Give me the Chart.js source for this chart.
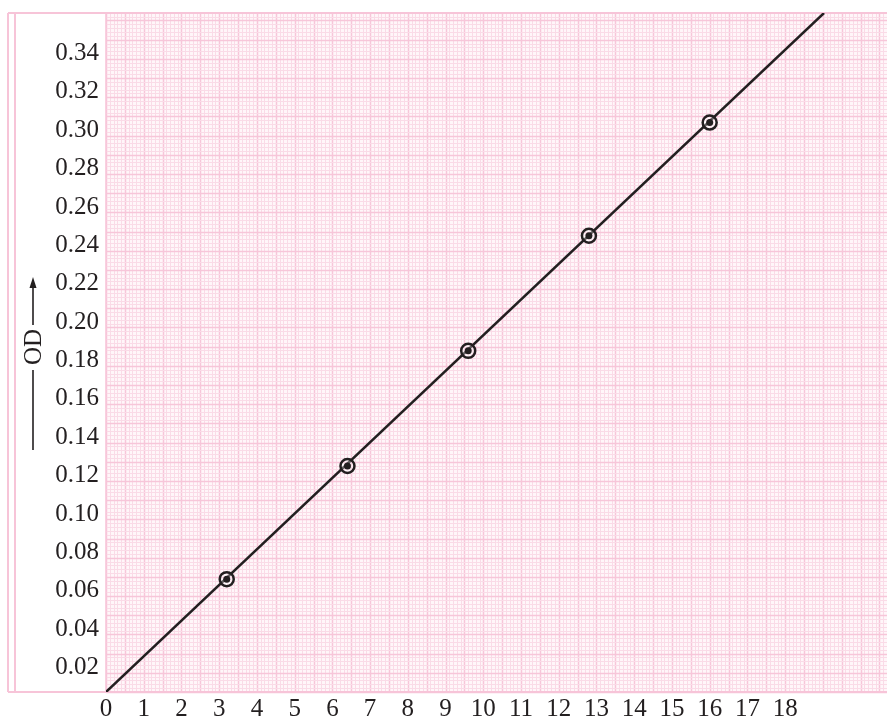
<!DOCTYPE html>
<html>
<head>
<meta charset="utf-8">
<script src="https://cdn.jsdelivr.net/npm/chart.js@4"></script>
<style>
  body { margin: 0; background: #fff; }
  .wrap { width: 887px; height: 718px; position: relative; }
</style>
</head>
<body>
<div class="wrap"><canvas id="chart"></canvas></div>
<script>
// concentration vs optical density
const concentration = [3.2, 6.4, 9.6, 12.8, 16];
const od = [0.066, 0.125, 0.185, 0.245, 0.304];

// best fit line, ends
const fitX = [0, 19.03];
const fitY = [0.0072, 0.3611];

const xTicks = [0, 1, 2, 3, 4, 5, 6, 7, 8, 9, 10, 11, 12, 13, 14, 15, 16, 17, 18];
const yTicks = [0.02, 0.04, 0.06, 0.08, 0.10, 0.12, 0.14, 0.16, 0.18, 0.20, 0.22, 0.24, 0.26, 0.28, 0.30, 0.32, 0.34];

const INK = '#231f20';
const FONT = 'Liberation Serif';

const points = concentration.map((c, i) => ({x: c, y: od[i]}));
const fitLine = fitX.map((x, i) => ({x, y: fitY[i]}));

// pink graph paper + frame
const paper = {
    id: 'paper',
    beforeDraw(chart) {
        const {ctx, chartArea: a, scales: {x, y}} = chart;
        ctx.save();
        ctx.fillStyle = '#fff';
        ctx.fillRect(0, 0, chart.width, chart.height);
        ctx.fillStyle = '#fff6f9';
        ctx.fillRect(a.left, a.top, a.right - a.left, a.bottom - a.top);

        const line = (x1, y1, x2, y2, col, w) => {
            ctx.strokeStyle = col;
            ctx.lineWidth = w;
            ctx.beginPath();
            ctx.moveTo(x1, y1);
            ctx.lineTo(x2, y2);
            ctx.stroke();
        };
        // fine lines every 0.1 in x and 0.002 in y
        for (let k = 0; ; k++) {
            const px = x.getPixelForValue(k * 0.1);
            if (px > a.right + 1) break;
            const col = k % 5 === 0 ? '#f7c6d9' : '#fadbe7';
            line(Math.round(px) + 0.5, a.top, Math.round(px) + 0.5, a.bottom, col, k % 5 === 0 ? 1.5 : 1);
        }
        for (let k = 0; ; k++) {
            const py = y.getPixelForValue(y.min + k * 0.002);
            if (py < a.top - 1) break;
            const col = k % 5 === 0 ? '#f7c6d9' : '#fadbe7';
            line(a.left, Math.round(py) + 0.5, a.right, Math.round(py) + 0.5, col, k % 5 === 0 ? 1.5 : 1);
        }

        // outer frame
        const fc = '#f7c4d8';
        line(8, a.top, chart.width, a.top, fc, 2);
        line(8, a.bottom, chart.width, a.bottom, fc, 2);
        line(8, a.top, 8, a.bottom, fc, 2);
        line(15, a.top, 15, a.bottom, fc, 2);
        line(a.left, a.top, a.left, a.bottom, fc, 1.5);

        // axis title with arrow
        const tx = 33, ty = 347;
        ctx.translate(tx, ty);
        ctx.rotate(-Math.PI / 2);
        ctx.fillStyle = INK;
        ctx.font = '25px "' + FONT + '"';
        ctx.textAlign = 'center';
        ctx.textBaseline = 'middle';
        ctx.fillText('OD', 0, 1);
        ctx.restore();

        ctx.save();
        line(tx, 450, tx, 370, INK, 1.6);
        line(tx, 325, tx, 284, INK, 1.6);
        ctx.fillStyle = INK;
        ctx.beginPath();
        ctx.moveTo(tx, 277);
        ctx.lineTo(tx - 3.5, 288);
        ctx.lineTo(tx + 3.5, 288);
        ctx.closePath();
        ctx.fill();
        ctx.restore();
    }
};

new Chart(document.getElementById('chart'), {
    type: 'scatter',
    data: {
        datasets: [
            {
                data: fitLine,
                order: 3,
                showLine: true,
                borderColor: INK,
                borderWidth: 2.5,
                pointRadius: 0,
            },
            {
                data: points,
                order: 2,
                pointRadius: 7,
                borderWidth: 2.5,
                borderColor: INK,
                backgroundColor: 'rgba(255,255,255,0.3)',
            },
            {
                data: points,
                order: 1,
                pointRadius: 3.5,
                borderWidth: 0,
                backgroundColor: INK,
                pointBackgroundColor: INK,
            }
        ]
    },
    options: {
        responsive: true,
        maintainAspectRatio: false,
        animation: false,
        layout: {autoPadding: false, padding: {top: 13, left: 0, right: 0, bottom: 0}},
        plugins: {legend: {display: false}, tooltip: {enabled: false}},
        scales: {
            x: {
                type: 'linear',
                min: 0,
                max: 20.7,
                afterBuildTicks: (s) => { s.ticks = xTicks.map(v => ({value: v})); },
                afterFit: (s) => {
                    s.height = 26;
                    s.paddingLeft = 0;
                    s.paddingRight = 0;
                },
                grid: {display: false, drawTicks: false},
                border: {display: false},
                ticks: {
                    padding: 2,
                    color: INK,
                    font: {family: FONT, size: 25},
                    maxRotation: 0,
                    autoSkip: false,
                    callback: (v) => String(v),
                }
            },
            y: {
                type: 'linear',
                min: 0.0072,
                max: 0.3611,
                afterBuildTicks: (s) => { s.ticks = yTicks.map(v => ({value: v})); },
                afterFit: (s) => {
                    s.width = 106;
                    s.paddingTop = 0;
                    s.paddingBottom = 0;
                },
                grid: {display: false, drawTicks: false},
                border: {display: false},
                ticks: {
                    padding: 7,
                    color: INK,
                    font: {family: FONT, size: 25},
                    autoSkip: false,
                    callback: (v) => v.toFixed(2),
                }
            }
        }
    },
    plugins: [paper]
});
</script>
</body>
</html>
